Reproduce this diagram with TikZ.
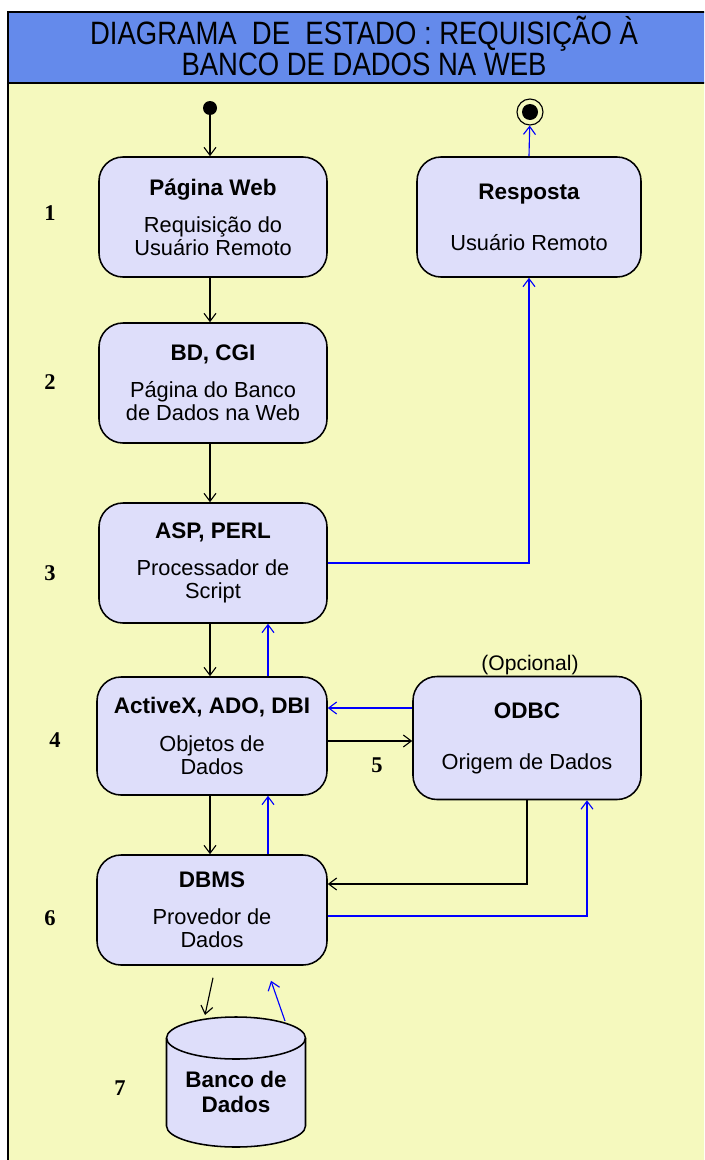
\documentclass[tikz,border=0pt]{standalone}
\usepackage{fontspec}
\setmainfont{Liberation Sans}
\newfontfamily\numfont{Liberation Serif}
\usetikzlibrary{arrows.meta}
\definecolor{fundo}{RGB}{245,249,190}
\definecolor{cabecalho}{RGB}{100,138,235}
\definecolor{lilas}{RGB}{222,222,250}
\newcommand{\nome}[1]{{\fontsize{16}{16}\selectfont\bfseries #1}}
\begin{document}
\begin{tikzpicture}[x=0.25mm,y=-0.25mm,
        caixa/.style={draw, line width=1.1pt, fill=lilas, rounded corners=6mm, align=center,
            minimum width=57mm, minimum height=30mm, font=\fontsize{15.5}{16.3}\selectfont},
        seta/.style={line width=0.8pt, -{Straight Barb[length=2mm, width=3mm]}},
        volta/.style={seta, blue},
        numero/.style={font=\numfont\fontsize{16}{18}\selectfont\bfseries}]
    \useasboundingbox (0,0) rectangle (704,1160);
    \clip (0,0) rectangle (704,1160);
    \fill[white] (0,0) rectangle (704,1160);
    \fill[fundo] (8,83) rectangle (720,1180);
    \fill[cabecalho] (8,12) rectangle (720,83);
    \draw[line width=1.1pt] (8,1180) -- (8,12) -- (720,12);
    \draw[line width=1.1pt] (8,83) -- (720,83);
    \node[align=center, font=\fontsize{23}{20}\selectfont] (titulo) at (364,46)
        {\scalebox{0.85}[1]{DIAGRAMA \ DE \ ESTADO : REQUISIÇÃO À}\\
         \scalebox{0.85}[1]{BANCO DE DADOS NA WEB}};

    % estados
    \node[caixa] (web) at (213,217) {\nome{Página Web}\\[3.6mm]Requisição do\\Usuário Remoto};
    \node[caixa, minimum width=56mm] (resp) at (529,217) {\nome{Resposta}\\[7mm]Usuário Remoto};
    \node[caixa] (bd) at (213,383) {\nome{BD, CGI}\\[3.6mm]Página do Banco\\de Dados na Web};
    \node[caixa] (asp) at (213,563) {\nome{ASP, PERL}\\[3.6mm]Processador de\\Script};
    \node[caixa, minimum width=57.5mm, minimum height=29.5mm] (act) at (212,736)
        {\nome{ActiveX, ADO, DBI}\\[3.6mm]Objetos de\\Dados};
    \node[caixa, minimum height=30.75mm] (odbc) at (527,738) {\nome{ODBC}\\[7mm]Origem de Dados};
    \node[font=\fontsize{15}{16}\selectfont] (opc) at (530,665) {(Opcional)};
    \node[caixa, minimum width=57.5mm, minimum height=27.5mm] (dbms) at (212,910)
        {\nome{DBMS}\\[3.6mm]Provedor de\\Dados};

    % banco de dados (cilindro)
    \filldraw[fill=lilas, line width=1.1pt] (166.5,1038) -- (166.5,1126)
        arc[start angle=180, end angle=0, x radius=69.5, y radius=21] -- (305.5,1038)
        arc[start angle=0, end angle=-180, x radius=69.5, y radius=21] -- cycle;
    \draw[line width=1.1pt] (166.5,1038) arc[start angle=180, end angle=0, x radius=69.5, y radius=21];
    \node[align=center, font=\fontsize{16}{18}\selectfont\bfseries] (bdados) at (236,1092) {Banco de\\Dados};
    \coordinate (bdentra) at (205,1015);
    \coordinate (bdsai) at (285,1021);

    \node[circle, fill=black, inner sep=0pt, minimum size=3.5mm] (ini) at (210,108) {};
    \node[circle, draw, line width=0.8pt, inner sep=0pt, minimum size=6.5mm] (fim) at (530,112) {};
    \fill (fim) circle (8);

    % numeros
    \node[numero] (n1) at (50,213) {1};
    \node[numero] (n2) at (50,382) {2};
    \node[numero] (n3) at (50,573) {3};
    \node[numero] (n4) at (55,740) {4};
    \node[numero] (n5) at (377,765) {5};
    \node[numero] (n6) at (50,918) {6};
    \node[numero] (n7) at (120,1088) {7};

    \coordinate (xa) at (210,0);
    \coordinate (xb) at (268,0);
    \coordinate (xc) at (587,0);
    \coordinate (ya) at (0,708);
    \coordinate (yb) at (0,741);
    \coordinate (yc) at (0,884);
    \coordinate (yd) at (0,916);

    % transicoes
    \draw[seta] (ini) -- (web.north -| xa);
    \draw[seta] (web.south -| xa) -- (bd.north -| xa);
    \draw[seta] (bd.south -| xa) -- (asp.north -| xa);
    \draw[seta] (asp.south -| xa) -- (act.north -| xa);
    \draw[volta] (act.north -| xb) -- (asp.south -| xb);
    \draw[volta] (asp.east) -| (resp.south);
    \draw[volta] (resp.north) -- (fim);
    \draw[volta] (odbc.west |- ya) -- (act.east |- ya);
    \draw[seta] (act.east |- yb) -- (odbc.west |- yb);
    \draw[seta] (act.south -| xa) -- (dbms.north -| xa);
    \draw[volta] (dbms.north -| xb) -- (act.south -| xb);
    \draw[seta] (odbc.south) |- (dbms.east |- yc);
    \draw[volta] (dbms.east |- yd) -| (odbc.south -| xc);
    \draw[seta] ([shift={(1,12)}]dbms.south) -- (bdentra);
    \draw[volta] (bdsai) -- ([shift={(59,15)}]dbms.south);
\end{tikzpicture}
\end{document}
